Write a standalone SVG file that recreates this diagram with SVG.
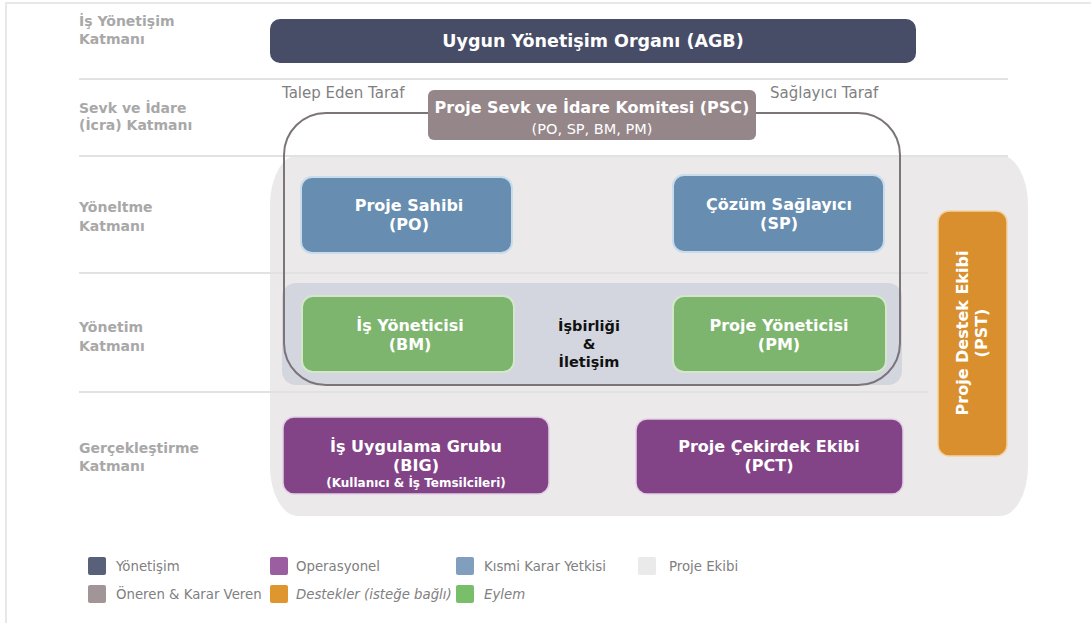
<svg xmlns="http://www.w3.org/2000/svg" width="1091" height="623" viewBox="0 0 1091 623">
  <style>
    .layer { font-family: "DejaVu Sans", Verdana, sans-serif; font-weight: bold; font-size: 14px; fill: #a8a8a8; }
    .side { font-family: "DejaVu Sans", Verdana, sans-serif; font-size: 15px; fill: #7f7f7f; }
    .title { font-family: "DejaVu Sans", Verdana, sans-serif; font-weight: bold; font-size: 16px; fill: #ffffff; text-anchor: middle; }
    .sub { font-family: "DejaVu Sans", Verdana, sans-serif; font-size: 14.5px; fill: #ffffff; text-anchor: middle; }
    .small { font-family: "DejaVu Sans", Verdana, sans-serif; font-weight: bold; font-size: 12px; fill: #ffffff; text-anchor: middle; }
    .collab { font-family: "DejaVu Sans", Verdana, sans-serif; font-weight: bold; font-size: 14.5px; fill: #111111; text-anchor: middle; }
    .legend { font-family: "DejaVu Sans", Verdana, sans-serif; font-size: 13.3px; fill: #808080; }
    .sep { stroke: #e2e2e2; stroke-width: 2; }
    .blue { fill: #678db0; stroke: #c9dcec; stroke-width: 2; }
    .green { fill: #7db46e; stroke: #d3e8cb; stroke-width: 2; }
    .purple { fill: #834487; stroke: #e4d0e6; stroke-width: 1.5; }
  </style>

  <!-- page frame -->
  <path d="M6 623 V3 H1091" fill="none" stroke="#e8e8e8" stroke-width="2"/>

  <!-- project team area -->
  <rect x="270" y="155" width="758" height="361" rx="28" ry="50" fill="#ebe9ea"/>

  <!-- layer separators -->
  <g id="separators">
    <line class="sep" x1="79" y1="79" x2="1008" y2="79"/>
    <line class="sep" x1="79" y1="156" x2="1008" y2="156"/>
    <line class="sep" x1="79" y1="273" x2="928" y2="273"/>
    <line class="sep" x1="79" y1="392" x2="928" y2="392"/>
  </g>

  <!-- layer labels -->
  <g id="layer-labels">
    <text class="layer" x="79" y="26">İş Yönetişim</text>
    <text class="layer" x="79" y="44">Katmanı</text>
    <text class="layer" x="79" y="113">Sevk ve İdare</text>
    <text class="layer" x="79" y="130">(İcra) Katmanı</text>
    <text class="layer" x="79" y="212">Yöneltme</text>
    <text class="layer" x="79" y="231">Katmanı</text>
    <text class="layer" x="79" y="332">Yönetim</text>
    <text class="layer" x="79" y="351">Katmanı</text>
    <text class="layer" x="79" y="453">Gerçekleştirme</text>
    <text class="layer" x="79" y="471">Katmanı</text>
  </g>

  <!-- management band -->
  <rect x="282" y="283" width="620" height="102" rx="14" fill="#d3d6de"/>

  <!-- steering committee outline -->
  <g id="connectors">
    <rect x="284" y="113" width="616" height="272" rx="42" fill="none" stroke="#7b7478" stroke-width="2"/>
  </g>

  <text class="side" x="282" y="98">Talep Eden Taraf</text>
  <text class="side" x="770" y="98">Sağlayıcı Taraf</text>

  <g id="agb">
    <rect x="270" y="19" width="646" height="44" rx="10" fill="#474c67"/>
    <text class="title" x="593" y="47" style="font-size:17.5px">Uygun Yönetişim Organı (AGB)</text>
  </g>

  <g id="psc">
    <rect x="428" y="90" width="328" height="50" rx="6" fill="#958689"/>
    <text class="title" x="592" y="113">Proje Sevk ve İdare Komitesi (PSC)</text>
    <text class="sub" x="592" y="134">(PO, SP, BM, PM)</text>
  </g>

  <g id="po">
    <rect class="blue" x="301" y="177" width="211" height="76" rx="11"/>
    <text class="title" x="409" y="211">Proje Sahibi</text>
    <text class="title" x="409" y="230">(PO)</text>
  </g>

  <g id="sp">
    <rect class="blue" x="673" y="175" width="211" height="77" rx="11"/>
    <text class="title" x="779" y="210">Çözüm Sağlayıcı</text>
    <text class="title" x="779" y="229">(SP)</text>
  </g>

  <g id="bm">
    <rect class="green" x="302" y="296" width="212" height="76" rx="11"/>
    <text class="title" x="410" y="331">İş Yöneticisi</text>
    <text class="title" x="410" y="350">(BM)</text>
  </g>

  <g id="pm">
    <rect class="green" x="673" y="296" width="213" height="76" rx="11"/>
    <text class="title" x="779" y="331">Proje Yöneticisi</text>
    <text class="title" x="779" y="350">(PM)</text>
  </g>

  <g id="collaboration">
    <text class="collab" x="589" y="331">İşbirliği</text>
    <text class="collab" x="589" y="349">&amp;</text>
    <text class="collab" x="589" y="367">İletişim</text>
  </g>

  <g id="pst">
    <rect x="938" y="211" width="69" height="245" rx="11" fill="#d98f2e" stroke="#f3d3a3" stroke-width="1.5"/>
    <text class="title" transform="translate(968,333) rotate(-90)" x="0" y="0">Proje Destek Ekibi</text>
    <text class="title" transform="translate(987,333) rotate(-90)" x="0" y="0">(PST)</text>
  </g>

  <g id="big">
    <rect class="purple" x="283" y="417" width="266" height="77" rx="11"/>
    <text class="title" x="416" y="452">İş Uygulama Grubu</text>
    <text class="title" x="416" y="471">(BIG)</text>
    <text class="small" x="416" y="487">(Kullanıcı &amp; İş Temsilcileri)</text>
  </g>

  <g id="pct">
    <rect class="purple" x="636" y="419" width="267" height="75" rx="11"/>
    <text class="title" x="769" y="452">Proje Çekirdek Ekibi</text>
    <text class="title" x="769" y="471">(PCT)</text>
  </g>

  <!-- legend -->
  <g id="legend">
    <rect x="88" y="557" width="18" height="18" rx="2" fill="#596079"/>
    <text class="legend" x="116" y="571">Yönetişim</text>
    <rect x="270" y="557" width="18" height="18" rx="2" fill="#9b5ea0"/>
    <text class="legend" x="296" y="571">Operasyonel</text>
    <rect x="456" y="557" width="18" height="18" rx="2" fill="#819fbd"/>
    <text class="legend" x="484" y="571">Kısmi Karar Yetkisi</text>
    <rect x="638" y="557" width="18" height="18" rx="2" fill="#eaeaea"/>
    <text class="legend" x="669" y="571">Proje Ekibi</text>

    <rect x="88" y="585" width="18" height="18" rx="2" fill="#a19598"/>
    <text class="legend" x="116" y="599">Öneren &amp; Karar Veren</text>
    <rect x="270" y="585" width="18" height="18" rx="2" fill="#e0962e"/>
    <text class="legend" x="296" y="599" font-style="italic">Destekler (isteğe bağlı)</text>
    <rect x="456" y="585" width="18" height="18" rx="2" fill="#79bf6a"/>
    <text class="legend" x="484" y="599" font-style="italic">Eylem</text>
  </g>
</svg>
